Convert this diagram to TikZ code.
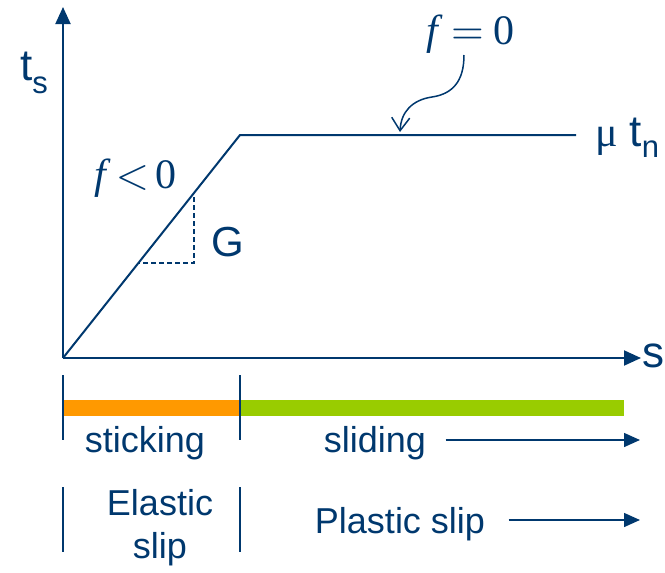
\documentclass[tikz,border=0pt]{standalone}
\usepackage{unicode-math}
\setmainfont{Liberation Sans}
\setmathfont{Latin Modern Math}
\newfontfamily\serifface{Liberation Serif}
\usetikzlibrary{arrows.meta}
\definecolor{navy}{RGB}{0,56,110}
\definecolor{stickOrange}{RGB}{255,153,0}
\definecolor{slideGreen}{RGB}{153,204,0}
\newcommand{\bigsize}{\fontsize{44}{44}\selectfont}
\newcommand{\subsize}{\fontsize{31}{31}\selectfont}

\begin{document}
\begin{tikzpicture}[x=1pt, y=-1pt, font=\fontsize{36}{43}\selectfont, text=navy]
        \tikzset{
            axis/.style={draw=navy, line width=2pt, -{Triangle[length=17pt, width=15pt]}},
            curveLine/.style={draw=navy, line width=2pt},
            slopeGuide/.style={draw=navy, line width=1.3pt, dash pattern=on 5pt off 3pt},
            rangeMark/.style={draw=navy, line width=2pt},
            rangeArrow/.style={draw=navy, line width=1.5pt, -{Triangle[length=16pt, width=14pt]}},
            pointer/.style={draw=navy, line width=1.5pt, -{Straight Barb[length=13pt, width=18pt]}},
            mathlabel/.style={font=\fontsize{42}{42}\selectfont\serifface, inner sep=0pt}
        }
        \useasboundingbox (0,0) rectangle (665,573);

        % axes and law
        \coordinate (origin) at (63,358);
        \coordinate (yTip) at (63,7);
        \coordinate (xTip) at (641,358);
        \coordinate (kink) at (240,135);
        \coordinate (plateauEnd) at (576,135);

        \draw[axis] (origin) -- (yTip);
        \draw[axis] (origin) -- (xTip);
        \draw[curveLine] (origin) -- (kink) -- (plateauEnd);

        \node[inner sep=0pt, anchor=base west] (tsLabel) at (20,80) {\bigsize t\raisebox{-13pt}{\subsize s}};
        \node[inner sep=0pt, anchor=base west] (sLabel) at (642,367) {\bigsize s};
        \node[inner sep=0pt, anchor=base west] (muLabel) at (595,146) {{\fontsize{42}{42}\selectfont\serifface\char"03BC}\hspace{12pt}{\bigsize t}\raisebox{-11pt}{\subsize n}};

        % slope triangle
        \coordinate (slopeTop) at (194,197);
        \coordinate (slopeCorner) at (194,263);
        \coordinate (slopeFoot) at (139,263);
        \draw[slopeGuide] (slopeTop) -- (slopeCorner) -- (slopeFoot);
        \node[inner sep=0pt, anchor=base west] (gLabel) at (211,256) {\fontsize{42}{42}\selectfont G};

        \node[mathlabel, anchor=base west] (fNegLabel) at (94,188) {\itshape f\hspace{11pt}\upshape$<$\hspace{6pt}0};
        \node[mathlabel, anchor=base west] (fZeroLabel) at (426,44) {\itshape f\hspace{14pt}\upshape$=$\hspace{9pt}0};
        \coordinate (pointTip) at (400,132);
        \draw[pointer] (464,55) .. controls (464,82) and (452,94) .. (432,97)
            .. controls (412,100) and (401,112) .. (pointTip);

        % regimes
        \coordinate (barStart) at (63,408);
        \coordinate (barSplit) at (240,408);
        \coordinate (barEnd) at (624,408);
        \draw[stickOrange, line width=16pt] (barStart) -- (barSplit);
        \draw[slideGreen, line width=16pt] (barSplit) -- (barEnd);

        \draw[rangeMark] (63,375) -- (63,440);
        \draw[rangeMark] (240,375) -- (240,440);
        \draw[rangeMark] (63,487) -- (63,552);
        \draw[rangeMark] (240,487) -- (240,552);

        \node[anchor=base] (stickLabel) at (145,452) {sticking};
        \node[anchor=base] (slideLabel) at (375,452) {sliding};
        \coordinate (slideEnd) at (640,440);
        \draw[rangeArrow] (slideLabel.east |- slideEnd) ++(16,0) -- (slideEnd);

        \node[align=center, anchor=north] (elasticLabel) at (160,486) {Elastic\\slip};
        \node[anchor=base] (plasticLabel) at (400,533) {Plastic slip};
        \coordinate (plasticEnd) at (640,520);
        \draw[rangeArrow] (plasticLabel.east |- plasticEnd) ++(20,0) -- (plasticEnd);
    \end{tikzpicture}
\end{document}
